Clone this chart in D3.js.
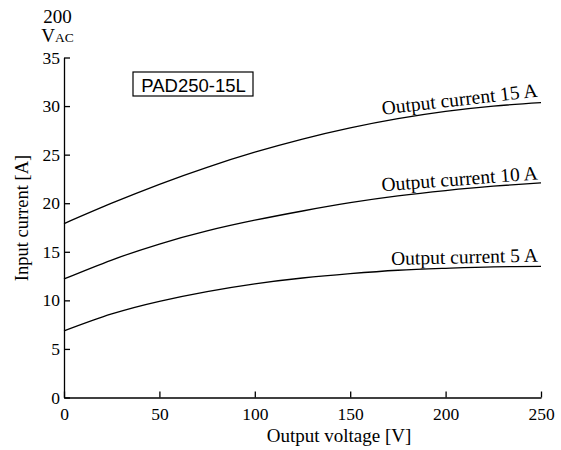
<!DOCTYPE html>
<html><head><meta charset="utf-8">
<script src="https://cdn.jsdelivr.net/npm/d3@7"></script>
<style>
body{margin:0;background:#fff;}
svg text{font-family:"Liberation Serif","Times New Roman",serif;fill:#000;}
</style></head>
<body><svg id="c" width="561" height="450"></svg>
<script>
const voltages = [0, 25, 50, 75, 100, 125, 150, 175, 200, 225, 250];
const current15A = [17.9, 20.0, 21.95, 23.7, 25.25, 26.6, 27.75, 28.7, 29.45, 30.0, 30.35];
const current10A = [12.2, 14.15, 15.8, 17.15, 18.25, 19.2, 20.05, 20.75, 21.3, 21.75, 22.1];
const current5A  = [6.85, 8.6, 9.9, 10.9, 11.7, 12.3, 12.75, 13.1, 13.3, 13.45, 13.5];
const seriesLabels = ["Output current 15 A", "Output current 10 A", "Output current 5 A"];
const xTicks = [0, 50, 100, 150, 200, 250];
const yTicks = [0, 5, 10, 15, 20, 25, 30, 35];
const modelName = "PAD250-15L";

const svg = d3.select("#c");
const x = d3.scaleLinear().domain([0, 250]).range([64, 541]);
const y = d3.scaleLinear().domain([0, 35]).range([397.5, 57.5]);

const xAxis = d3.axisBottom(x).tickValues(xTicks).tickSize(-6).tickSizeOuter(0).tickPadding(10);
const yAxis = d3.axisLeft(y).tickValues(yTicks).tickSize(-6).tickSizeOuter(0).tickPadding(3);

const gx = svg.append("g").attr("transform", "translate(0,397.5)").call(xAxis);
const gy = svg.append("g").attr("transform", "translate(64,0)").call(yAxis);
[gx, gy].forEach(g => {
  g.selectAll("path,line").attr("stroke", "#000").attr("stroke-width", 1.3);
  g.selectAll("text").attr("font-family", "Liberation Serif").attr("font-size", 17.5).attr("fill", "#000");
});
gy.selectAll("text").attr("dx", -1);

const allSeries = [current15A, current10A, current5A];
const line = d3.line().x((d, i) => x(voltages[i])).y(d => y(d)).curve(d3.curveNatural);
svg.append("g").selectAll("path").data(allSeries).join("path")
  .attr("d", d => line(d)).attr("fill", "none").attr("stroke", "#000").attr("stroke-width", 1.3);

// curve labels, anchored at end near right, rotated along curve
const labelRot = [-6.6, -4.4, -1.3];
const labelDy = [-6, -3.5, -4.7];
svg.append("g").selectAll("text").data(allSeries).join("text")
  .attr("transform", (d, i) => `translate(${x(250) - 3},${y(d[d.length - 1]) + labelDy[i]}) rotate(${labelRot[i]})`)
  .attr("text-anchor", "end").attr("font-size", 19.5)
  .text((d, i) => seriesLabels[i]);

// axis titles
svg.append("text").attr("x", 339).attr("y", 441.5).attr("text-anchor", "middle")
  .attr("font-size", 19).text("Output voltage [V]");
svg.append("text").attr("transform", `translate(28,218) rotate(-90)`)
  .attr("text-anchor", "middle").attr("font-size", 18.5).text("Input current [A]");

// top-left condition
svg.append("text").attr("x", 57.5).attr("y", 22.7).attr("text-anchor", "middle").attr("font-size", 19).text("200");
const vac = svg.append("text").attr("x", 57.5).attr("y", 41.7).attr("text-anchor", "middle").attr("font-size", 19);
vac.append("tspan").text("V");
vac.append("tspan").attr("font-size", 13.5).text("AC");

// model box
svg.append("rect").attr("x", 133).attr("y", 72).attr("width", 120).attr("height", 24)
  .attr("fill", "#fff").attr("stroke", "#000").attr("stroke-width", 1.2);
svg.append("text").attr("x", 193.5).attr("y", 91.5).attr("text-anchor", "middle")
  .style("font-family", "'Liberation Sans',Arial,sans-serif").attr("font-size", 18.5).text(modelName);
</script></body></html>
